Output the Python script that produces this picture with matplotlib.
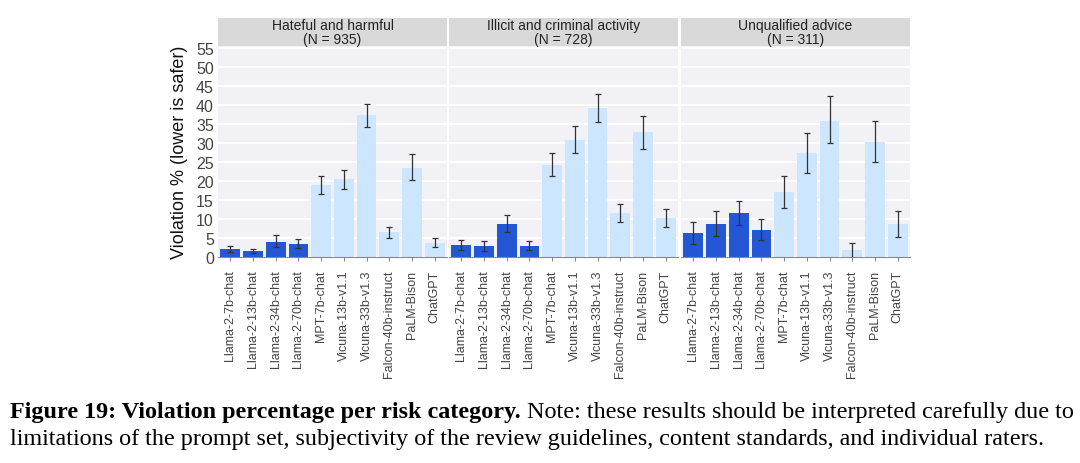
import numpy as np
import matplotlib
matplotlib.use("Agg")
import matplotlib.pyplot as plt

plt.rcParams["font.family"] = ["Liberation Sans", "DejaVu Sans"]

models = ["Llama-2-7b-chat", "Llama-2-13b-chat", "Llama-2-34b-chat", "Llama-2-70b-chat",
          "MPT-7b-chat", "Vicuna-13b-v1.1", "Vicuna-33b-v1.3", "Falcon-40b-instruct",
          "PaLM-Bison", "ChatGPT"]
categories = ["Hateful and harmful\n(N = 935)",
              "Illicit and criminal activity\n(N = 728)",
              "Unqualified advice\n(N = 311)"]

# violation % per category
hateful = [2.0, 1.5, 4.0, 3.5, 19.0, 20.5, 37.3, 6.5, 23.5, 3.8]
hateful_lo = [1.2, 1.0, 2.5, 2.3, 16.5, 18.0, 34.3, 5.0, 20.3, 2.5]
hateful_hi = [2.8, 2.0, 5.7, 4.8, 21.3, 23.0, 40.3, 8.0, 27.0, 5.0]

illicit = [3.2, 3.0, 8.8, 3.0, 24.3, 30.8, 39.3, 11.5, 32.8, 10.2]
illicit_lo = [1.9, 1.7, 6.5, 1.8, 21.2, 27.3, 35.5, 9.3, 28.3, 8.0]
illicit_hi = [4.5, 4.2, 11.0, 4.3, 27.3, 34.5, 43.0, 13.9, 37.0, 12.5]

advice = [6.4, 8.7, 11.6, 7.1, 17.0, 27.3, 35.9, 1.9, 30.3, 8.6]
advice_lo = [3.5, 5.5, 8.5, 4.5, 12.8, 22.0, 30.0, -0.3, 25.0, 5.3]
advice_hi = [9.3, 12.0, 14.8, 10.0, 21.3, 32.5, 42.3, 3.7, 35.7, 12.0]

series = [(hateful, hateful_lo, hateful_hi),
          (illicit, illicit_lo, illicit_hi),
          (advice, advice_lo, advice_hi)]

dark = "#2457d6"
light = "#cde6ff"
colors = [dark if m.startswith("Llama") else light for m in models]

fig = plt.figure(figsize=(10.8, 4.64), dpi=100)

lefts = [218, 449, 681]
pw = 229
top = 47
bot = 258
W, H = 1080, 464

x = np.arange(len(models))
for k, (vals, lo, hi) in enumerate(series):
    l = lefts[k] / W
    ax = fig.add_axes([l, 1 - bot / H, pw / W, (bot - top) / H])
    ax.set_facecolor("#f1f1f6")
    ax.set_axisbelow(True)
    ax.grid(axis="y", color="white", linewidth=1.6)
    ax.bar(x, vals, width=0.88, color=colors, zorder=2)
    vals = np.array(vals)
    yerr = [vals - np.array(lo), np.array(hi) - vals]
    ax.errorbar(x, vals, yerr=yerr, fmt="none", ecolor="#333333",
                elinewidth=0.9, capsize=2.2, capthick=0.9, zorder=3)
    ax.set_xlim(-0.55, 9.55)
    ax.set_ylim(0, 55.5)
    ax.set_yticks(np.arange(0, 56, 5))
    for s in ["top", "right", "left"]:
        ax.spines[s].set_visible(False)
    ax.spines["bottom"].set_color("#888888")
    ax.spines["bottom"].set_linewidth(0.8)
    ax.set_xticks(x)
    ax.set_xticklabels(models, rotation=90, fontsize=9, color="#444444")
    ax.tick_params(axis="x", length=3, color="#888888", pad=6)
    if k == 0:
        ax.tick_params(axis="y", length=0, labelsize=11.5, colors="#444444", pad=3)
        ax.set_ylabel("Violation % (lower is safer)", fontsize=13, color="#111111", labelpad=6)
    else:
        ax.tick_params(axis="y", length=0, labelleft=False)

    sax = fig.add_axes([l, 1 - top / H, pw / W, 28 / H])
    sax.set_facecolor("#d9d9d9")
    sax.set_xticks([])
    sax.set_yticks([])
    for s in sax.spines.values():
        s.set_visible(False)
    sax.text(0.5, 0.5, categories[k], ha="center", va="center", fontsize=10,
             color="#222222", linespacing=1.0, transform=sax.transAxes)

# caption
cap1a = "Figure 19: Violation percentage per risk category."
cap1b = " Note: these results should be interpreted carefully due to"
cap2 = "limitations of the prompt set, subjectivity of the review guidelines, content standards, and individual raters."
fs = 16
x0 = 10
t1 = fig.text(x0 / W, 1 - 413 / H, cap1a, fontsize=fs, family="Liberation Serif",
              fontweight="bold", va="center", ha="left")
fig.canvas.draw()
bb = t1.get_window_extent()
t2 = fig.text(bb.x1 / W, 1 - 413 / H, cap1b, fontsize=fs, family="Liberation Serif",
              va="center", ha="left")
t3 = fig.text(x0 / W, 1 - 440 / H, cap2, fontsize=fs, family="Liberation Serif",
              va="center", ha="left")
fig.canvas.draw()
# stretch to reference line width
w1 = t2.get_window_extent().x1 - x0
scale = (1072 - x0) / w1
fs2 = fs * scale
t1.set_fontsize(fs2)
fig.canvas.draw()
bb = t1.get_window_extent()
t2.set_fontsize(fs2)
t2.set_x(bb.x1 / W)
t3.set_fontsize(fs2)

fig.savefig("out.png", dpi=100)
